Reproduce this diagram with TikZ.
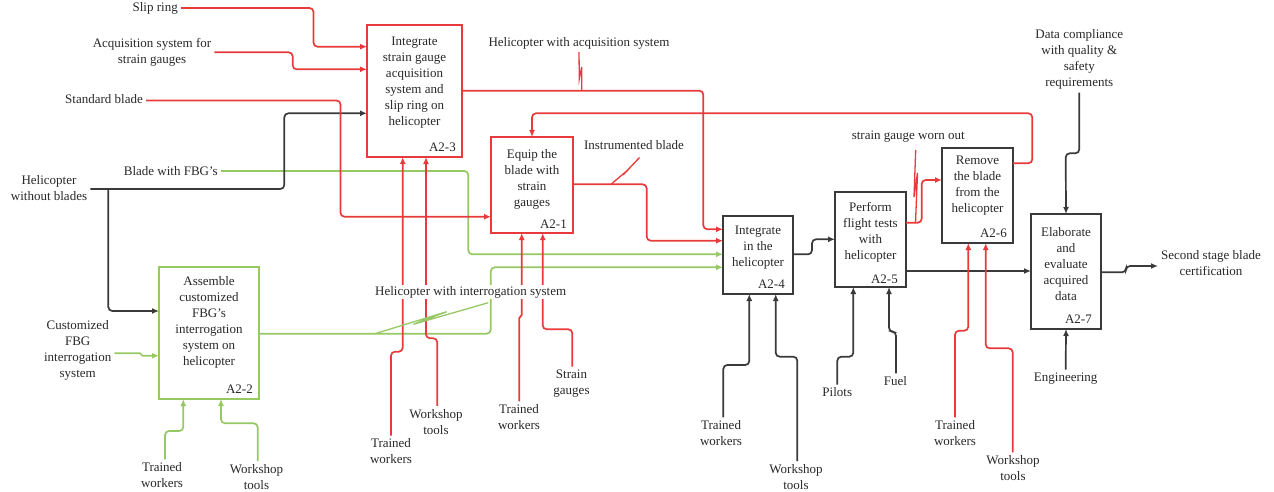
\documentclass[tikz,border=0pt]{standalone}
\usepackage{fontspec}
\setmainfont{Liberation Serif}
\usetikzlibrary{arrows.meta}
\definecolor{idefred}{RGB}{232,58,58}
\definecolor{idefgreen}{RGB}{150,200,100}
\definecolor{idefdark}{RGB}{58,58,58}
\definecolor{txt}{RGB}{40,40,40}

\begin{document}
\begin{tikzpicture}[x=1pt,y=-1pt,
  font=\fontsize{13}{16}\selectfont,
  every node/.style={inner sep=3pt, align=center, text=txt},
  act/.style={draw, line width=1.8pt, outer sep=0pt, inner sep=0pt},
  redact/.style={act, draw=idefred},
  greenact/.style={act, draw=idefgreen},
  darkact/.style={act, draw=idefdark},
  boxid/.style={anchor=east, inner sep=0pt},
  flow/.style={line width=1.7pt, rounded corners=4pt, -{Latex[length=7pt,width=6pt]}},
  rflow/.style={flow, draw=idefred},
  gflow/.style={flow, draw=idefgreen},
  kflow/.style={flow, draw=idefdark},
  squig/.style={line width=1.3pt}
]
\useasboundingbox (0,0) rectangle (1274,492);

% ---------- activity boxes ----------
\node[redact, minimum width=95pt, minimum height=132pt] (A23) at (414.5,91) {};
\node (A23t) at (414.5,83) {Integrate\\strain gauge\\acquisition\\system and\\slip ring on\\helicopter};
\node[boxid] (A23id) at ([xshift=-6pt,yshift=10pt]A23.south east) {A2-3};

\node[redact, minimum width=82pt, minimum height=96pt] (A21) at (532,185) {};
\node (A21t) at (532,179) {Equip the\\blade with\\strain\\gauges};
\node[boxid] (A21id) at ([xshift=-6pt,yshift=9pt]A21.south east) {A2-1};

\node[greenact, minimum width=100pt, minimum height=132pt] (A22) at (209,333) {};
\node (A22t) at (209,322) {Assemble\\customized\\FBG’s\\interrogation\\system on\\helicopter};
\node[boxid] (A22id) at ([xshift=-6pt,yshift=10pt]A22.south east) {A2-2};

\node[darkact, minimum width=70pt, minimum height=78pt] (A24) at (758,255) {};
\node (A24t) at (758,247.5) {Integrate\\in the\\helicopter};
\node[boxid] (A24id) at ([xshift=-8pt,yshift=10pt]A24.south east) {A2-4};

\node[darkact, minimum width=71pt, minimum height=95pt] (A25) at (870.5,239.5) {};
\node (A25t) at (870.5,232.5) {Perform\\flight tests\\with\\helicopter};
\node[boxid] (A25id) at ([xshift=-8pt,yshift=8pt]A25.south east) {A2-5};

\node[darkact, minimum width=71pt, minimum height=95pt] (A26) at (977.5,195.5) {};
\node (A26t) at (977.5,186) {Remove\\the blade\\from the\\helicopter};
\node[boxid] (A26id) at ([xshift=-6pt,yshift=10pt]A26.south east) {A2-6};

\node[darkact, minimum width=70pt, minimum height=115pt] (A27) at (1066,271.5) {};
\node (A27t) at (1066,264.5) {Elaborate\\and\\evaluate\\acquired\\data};
\node[boxid] (A27id) at ([xshift=-9pt,yshift=10pt]A27.south east) {A2-7};

% ---------- boundary labels ----------
\node[anchor=east] (slip) at (181,8) {Slip ring};
\node (acq) at (152,52) {Acquisition system for\\strain gauges};
\node[anchor=east] (std) at (146,99) {Standard blade};
\node (hwb) at (49,188) {Helicopter\\without blades};
\node[anchor=east] (bfbg) at (221,171) {Blade with FBG’s};
\node (cust) at (77.7,350.5) {Customized\\FBG\\interrogation\\system};
\node (hwa) at (579,43) {Helicopter with acquisition system};
\node (inst) at (634,145) {Instrumented blade};
\node (worn) at (908.3,137) {strain gauge worn out};
\node (dc) at (1079.3,59.5) {Data compliance\\with quality \&\\safety\\requirements};
\node[anchor=west] (cert) at (1158,263) {Second stage blade\\certification};
\node (eng) at (1065.7,378.5) {Engineering};

\node (twA) at (391,451.5) {Trained\\workers};
\node (wsA) at (436,421.7) {Workshop\\tools};
\node (twB) at (519,417.2) {Trained\\workers};
\node (sgB) at (571.5,383.5) {Strain\\gauges};
\node (twG) at (162,475.2) {Trained\\workers};
\node (wsG) at (256.5,477) {Workshop\\tools};
\node (twD) at (721,433.2) {Trained\\workers};
\node (wsD) at (796,477) {Workshop\\tools};
\node (pil) at (837.3,392.5) {Pilots};
\node (fuel) at (895.5,381.2) {Fuel};
\node (twF) at (955,433.2) {Trained\\workers};
\node (wsF) at (1013,468.2) {Workshop\\tools};

% ---------- green flows ----------
\draw[gflow] (bfbg.east) -- (468.3,171) -- (468.3,254.3) -- (A24.west |- 0,254.3);
\draw[gflow] (A22.east |- 0,333.7) -- (490.7,333.7) -- (490.7,267.3) -- (A24.west |- 0,267.3);
\draw[gflow, sharp corners] (cust.east |- 0,353.3) -- (140,353.3) -- (142.5,355.7) -- (A22.west |- 0,355.7);
\draw[gflow] (twG.north -| 165,0) -- (165,431) -- (183.3,431) -- (A22.south -| 183.3,0);
\draw[gflow] (wsG.north -| 257.7,0) -- (257.7,423.3) -- (221,423.3) -- (A22.south -| 221,0);

% ---------- dark flows ----------
\coordinate (hwbsplit) at (108.3,189);
\draw[kflow] (hwb.east |- 0,189) -- (284.3,189) -- (284.3,113.3) -- (A23.west |- 0,113.3);
\draw[kflow] (hwbsplit) -- (108.3,311) -- (A22.west |- 0,311);
\draw[kflow] (A24.east |- 0,254.3) -- (812,254.3) -- (812,239.3) -- (A25.west |- 0,239.3);
\draw[kflow] (A25.east |- 0,271) -- (A27.west |- 0,271);
\draw[kflow] (A27.east |- 0,272.3) -- (1126,272.3) -- (1126,266) -- (cert.west |- 0,266);
\draw[kflow] (dc.south) -- (1079.3,153.3) -- (1065.7,153.3) -- (A27.north);
\draw[kflow] (eng.north) -- (A27.south);
\draw[kflow] (twD.north -| 723.3,0) -- (723.3,365) -- (749.3,365) -- (A24.south -| 749.3,0);
\draw[kflow] (wsD.north -| 797.3,0) -- (797.3,356.7) -- (775.7,356.7) -- (A24.south -| 775.7,0);
\draw[kflow] (pil.north) -- (837.3,356.7) -- (853.3,356.7) -- (A25.south -| 853.3,0);
\draw[kflow] (fuel.north -| 896,0) -- (896,331.7) -- (889,331.7) -- (A25.south -| 889,0);

% ---------- red flows ----------
\draw[rflow] (slip.east) -- (313.5,8) -- (313.5,46.7) -- (A23.west |- 0,46.7);
\draw[rflow] (acq.east |- 0,52.3) -- (292.7,52.3) -- (292.7,69.3) -- (A23.west |- 0,69.3);
\draw[rflow] (std.east |- 0,100.5) -- (340.5,100.5) -- (340.5,216.7) -- (A21.west |- 0,216.7);
\draw[rflow] (A23.east |- 0,90.7) -- (703.3,90.7) -- (703.3,229.3) -- (A24.west |- 0,229.3);
\draw[rflow] (A21.east |- 0,184.3) -- (646.7,184.3) -- (646.7,240.7) -- (A24.west |- 0,240.7);
\draw[rflow] (A26.east |- 0,163.3) -- (1032.3,163.3) -- (1032.3,113.3) -- (532,113.3) -- (A21.north);
\draw[rflow] (A25.east |- 0,222.7) -- (921.7,222.7) -- (921.7,180) -- (A26.west |- 0,180);
\draw[rflow] (twA.north -| 391,0) -- (391,351.7) -- (402.7,351.7) -- (A23.south -| 402.7,0);
\draw[rflow] (wsA.north -| 437.3,0) -- (437.3,338.3) -- (426,338.3) -- (A23.south -| 426,0);
\draw[rflow, sharp corners] (twB.north -| 519.3,0) -- (519.3,318) -- (521.7,315) -- (A21.south -| 521.7,0);
\draw[rflow] (sgB.north -| 572.3,0) -- (572.3,329.3) -- (542.7,329.3) -- (A21.south -| 542.7,0);
\draw[rflow] (twF.north) -- (955,330.7) -- (968.3,330.7) -- (A26.south -| 968.3,0);
\draw[rflow] (wsF.north -| 1012.7,0) -- (1012.7,348.3) -- (985.7,348.3) -- (A26.south -| 985.7,0);

% ---------- squiggles tying labels to their arrows ----------
\draw[squig, idefred] (hwa.south) -- (579.3,79) -- (581.7,67) -- (581.7,90.7);
\draw[squig, idefred] (639.5,157.5) -- (623,175) -- (629,169) -- (611,184.3);
\draw[squig, idefred] (915.7,150) -- (914,197) -- (917.5,173) -- (915.5,222.7);

% label laid over the crossing lines
\node[fill=white, inner sep=1pt] (hwi) at (470.7,292) {Helicopter with interrogation system};
\draw[squig, idefgreen] (488.3,302.7) -- (413.3,324.3) -- (446.7,311.7) -- (375,333.7);
\end{tikzpicture}
\end{document}
